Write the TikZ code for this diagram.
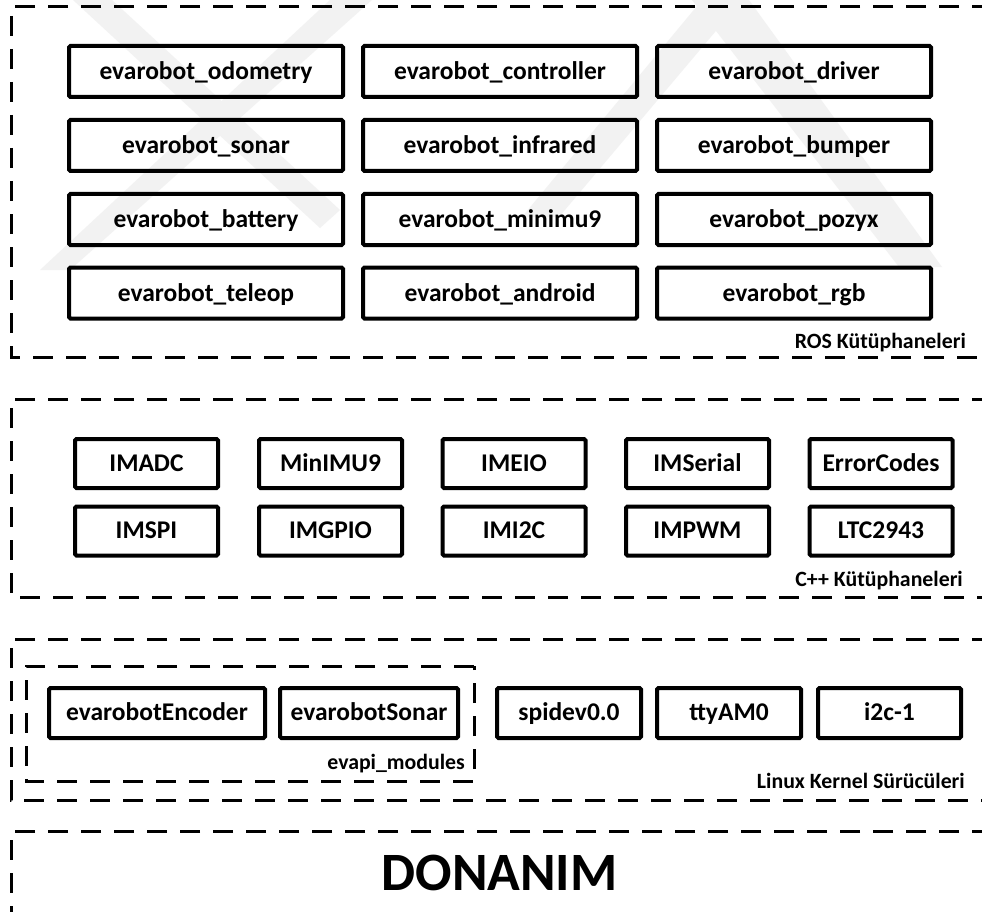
\documentclass[tikz,border=0pt]{standalone}
\usepackage{fontspec}
\setmainfont{Carlito}
\begin{document}
\begin{tikzpicture}[x=1pt,y=-1pt,
  frame/.style={line width=3pt,dash pattern=on 20pt off 13pt},
  modbox/.style={draw,line width=4pt,rounded corners=1.5pt,inner sep=0pt,
    font=\fontsize{25.5}{30}\bfseries\selectfont,text height=16pt,text depth=0pt},
  rosbox/.style={modbox,minimum width=274pt,minimum height=51pt},
  cppbox/.style={modbox,minimum width=143pt,minimum height=49pt,text height=15pt},
  lxbox/.style={modbox,minimum height=50pt,text height=15pt},
  grp/.style={font=\fontsize{21.8}{26}\bfseries\selectfont,inner sep=0pt,anchor=base east},
  wm/.style={fill=black!5,draw=none}]
\useasboundingbox (0,0) rectangle (982,912);
\fill[white] (0,0) rectangle (982,912);
\clip (0,0) rectangle (982,912);
% faint watermark
\fill[wm] (40,270) -- (70,270) -- (372,0) -- (330,0) -- cycle;
\fill[wm] (73,0) -- (112,0) -- (340,210) -- (320,228) -- cycle;
\fill[wm] (522,217) -- (559,217) -- (742,0) -- (702,0) -- cycle;
\fill[wm] (692,0) -- (749,0) -- (942,267) -- (899,267) -- cycle;
% ROS frame
\draw[frame] (992,7) -- (11,7) -- (11,357) -- (992,357);
\node[rosbox] (odo) at (206,71.5) {evarobot\_odometry};
\node[rosbox] (ctl) at (500,71.5) {evarobot\_controller};
\node[rosbox] (drv) at (794,71.5) {evarobot\_driver};
\node[rosbox] (son) at (206,145.5) {evarobot\_sonar};
\node[rosbox] (inf) at (500,145.5) {evarobot\_infrared};
\node[rosbox] (bmp) at (794,145.5) {evarobot\_bumper};
\node[rosbox] (bat) at (206,219.5) {evarobot\_battery};
\node[rosbox] (imu) at (500,219.5) {evarobot\_minimu9};
\node[rosbox] (poz) at (794,219.5) {evarobot\_pozyx};
\node[rosbox] (tel) at (206,293) {evarobot\_teleop};
\node[rosbox] (and) at (500,293) {evarobot\_android};
\node[rosbox] (rgb) at (794,293) {evarobot\_rgb};
\node[grp] (roslbl) at (966,348) {ROS Kütüphaneleri};
% C++ frame
\draw[frame] (992,399) -- (11,399) -- (11,597) -- (992,597);
\node[cppbox] (adc) at (146.5,463.5) {IMADC};
\node[cppbox] (mimu) at (330.5,463.5) {MinIMU9};
\node[cppbox] (eio) at (514,463.5) {IMEIO};
\node[cppbox] (ser) at (697.5,463.5) {IMSerial};
\node[cppbox] (err) at (881,463.5) {ErrorCodes};
\node[cppbox] (spi) at (146.5,531) {IMSPI};
\node[cppbox] (gpio) at (330.5,531) {IMGPIO};
\node[cppbox] (i2c) at (514,531) {IMI2C};
\node[cppbox] (pwm) at (697.5,531) {IMPWM};
\node[cppbox] (ltc) at (881,531) {LTC2943};
\node[grp] (cpplbl) at (963,586) {C++ Kütüphaneleri};
% Linux frame
\draw[frame] (992,639) -- (11,639) -- (11,800) -- (992,800);
\draw[frame] (474,666) -- (26,666) -- (26,781) -- (474,781) -- cycle;
\node[lxbox,minimum width=216pt] (enc) at (157,713) {evarobotEncoder};
\node[lxbox,minimum width=178pt] (snr) at (369,713) {evarobotSonar};
\node[grp] (evlbl) at (465,769) {evapi\_modules};
\node[lxbox,minimum width=144pt] (spidev) at (569,713) {spidev0.0};
\node[lxbox,minimum width=144pt] (tty) at (729,713) {ttyAM0};
\node[lxbox,minimum width=143pt] (i2cdev) at (889.5,713) {i2c-1};
\node[grp] (lxlbl) at (965,788) {Linux Kernel Sürücüleri};
% DONANIM frame
\draw[frame] (992,831) -- (11,831) -- (11,930);
\node[font=\fontsize{54}{60}\bfseries\selectfont,inner sep=0pt,anchor=base] (hw) at (499.5,890) {DONANIM};
\end{tikzpicture}
\end{document}
